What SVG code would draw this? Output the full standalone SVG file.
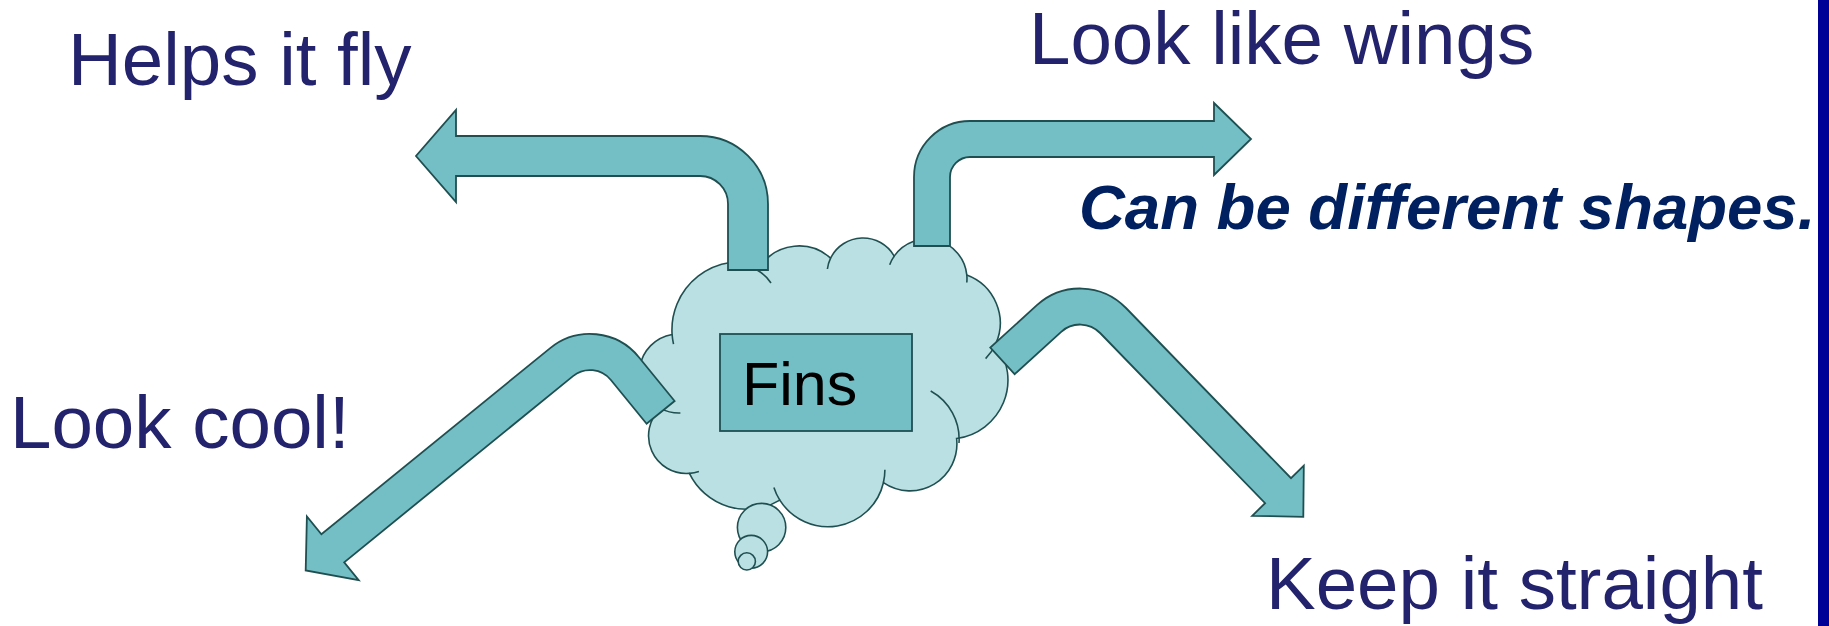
<svg xmlns="http://www.w3.org/2000/svg" width="1829" height="626" viewBox="0 0 1829 626">
<style>
.arrow{fill:#73BFC5;stroke:#1F4F51;stroke-width:1.8;stroke-linejoin:miter}
.cloud{fill:#BAE0E3;stroke:#1F4F51;stroke-width:1.6}
.tail{fill:none;stroke:#1F4F51;stroke-width:1.6}
.lbl{font-family:"Liberation Sans",Arial,sans-serif;font-size:74.5px;fill:#23236D}
</style>
<rect width="1829" height="626" fill="#FFFFFF"/>
<rect x="1818" y="0" width="11" height="626" fill="#000096"/>
<g id="cloud">
<path class="cloud" d="M672.1,334.5 A68,68 0 0 1 761,265.2 A47,47 0 0 1 830.6,258.2 A36,36 0 0 1 894.2,256.1 A40,40 0 0 1 966.8,274.9 A51.3,51.3 0 0 1 995.7,344 A59,59 0 0 1 956.6,438.5 A47,47 0 0 1 883.4,482.7 A56.9,56.9 0 0 1 779.8,500.1 A63.8,63.8 0 0 1 689.4,473.4 A37.7,37.7 0 0 1 660.4,408.4 A39.5,39.5 0 0 1 672.1,334.5 Z"/>
<path class="tail" d="M672.1,334.5 A68,68 0 0 0 673.5,344.1 M757,270 A40,40 0 0 1 771,283 M830.6,258.2 A36,36 0 0 0 827.4,269 M894.2,256.1 A40,40 0 0 0 889.7,264.7 M966.8,274.9 A40,40 0 0 1 966.8,282.5 M995.7,344 A51.3,51.3 0 0 1 985.6,358.6 M930.7,391 A55,55 0 0 1 959,443 M883.4,482.7 A56.9,56.9 0 0 0 884.9,469.8 M779.8,500.1 A56.9,56.9 0 0 1 773.9,487.4 M689.4,473.4 A37.7,37.7 0 0 0 698.9,471.4 M660.4,408.4 A39.5,39.5 0 0 0 680.4,413"/>
<circle class="cloud" cx="761.6" cy="527.6" r="24.2"/>
<circle class="cloud" cx="751.2" cy="551.8" r="16.4"/>
<circle class="cloud" cx="746.8" cy="561.4" r="8.6"/>
</g>
<g id="fins">
<rect x="720" y="334" width="192" height="97" fill="#73BFC5" stroke="#1F4F51" stroke-width="1.8"/>
<text x="742" y="405" font-family="'Liberation Sans',Arial,sans-serif" font-size="61" fill="#000000">Fins</text>
</g>
<g id="connectors">
<path class="arrow" d="M728,270 L728,204 A28,28 0 0 0 700,176 L456,176 L456,202 L416,156 L456,110 L456,136 L700,136 A68,68 0 0 1 768,204 L768,270 Z"/>
<path class="arrow" d="M914,246 L914,177 A56,56 0 0 1 970,121 L1214,121 L1214,103 L1251,139 L1214,175 L1214,157 L970,157 A20,20 0 0 0 950,177 L950,246 Z"/>
<path class="arrow" d="M646.6,423.8 L610.9,380 A27,27 0 0 0 573,376.1 L344.2,562.3 L358.7,580.1 L305.7,570.4 L306.9,516.5 L321.4,534.3 L550.2,348.1 A63,63 0 0 1 638.9,357.2 L674.6,401 Z"/>
<path class="arrow" d="M1014.6,374.2 L990.3,347.6 L1036.9,305.2 A64,64 0 0 1 1126,308 L1291,478.2 L1303.8,465.6 L1303.3,516.8 L1252.2,515.8 L1265.1,503.2 L1100.1,333 A28,28 0 0 0 1061.2,331.8 Z"/>
</g>
<g id="labels">
<text class="lbl" x="68" y="85">Helps it fly</text>
<text class="lbl" x="1029" y="64">Look like wings</text>
<text class="lbl" x="10" y="448">Look cool!</text>
<text class="lbl" x="1266" y="609">Keep it straight</text>
<text x="1079" y="229" font-family="'Liberation Sans',Arial,sans-serif" font-size="63.5" font-weight="bold" font-style="italic" fill="#002060">Can be different shapes.</text>
</g>
</svg>
